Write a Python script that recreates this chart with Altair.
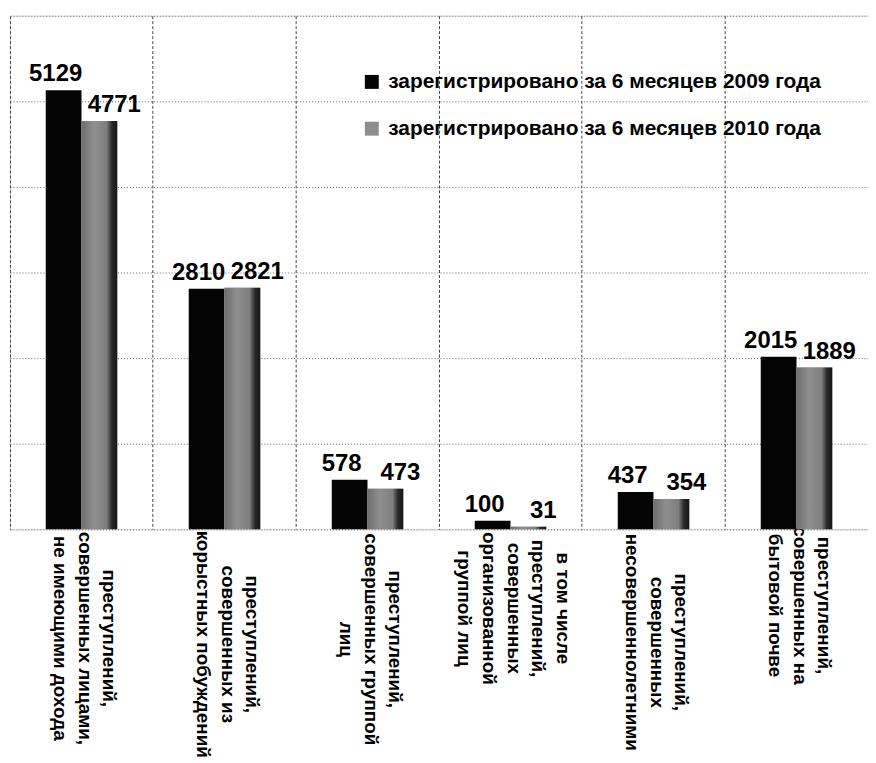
import altair as alt
import pandas as pd

categories = [
    "преступлений,|совершенных лицами,|не имеющими дохода",
    "преступлений,|совершенных из|корыстных побуждений",
    "преступлений,|совершенных группой|лиц",
    "в том числе|преступлений,|совершенных|организованной|группой лиц",
    "преступлений,|совершенных|несовершеннолетними",
    "преступлений,|совершенных на|бытовой почве",
]
series = [
    "зарегистрировано за 6 месяцев 2009 года",
    "зарегистрировано за 6 месяцев 2010 года",
]
v2009 = [5129, 2810, 578, 100, 437, 2015]
v2010 = [4771, 2821, 473, 31, 354, 1889]
y_ticks = [0, 1000, 2000, 3000, 4000, 5000, 6000]

LINE_H = 25
# label padding so the centred multi-line label block starts just below the axis
pads = [109, 115, 110, 79, 113, 76]
# shift so the block of lines is centred on the category
offs = [(c.count("|")) * LINE_H / 2 + 3 for c in categories]

rows = []
for c, a, b in zip(categories, v2009, v2010):
    rows.append({"cat": c, "series": series[0], "value": a})
    rows.append({"cat": c, "series": series[1], "value": b})
df = pd.DataFrame(rows)

FONT = "Liberation Sans"

x_enc = alt.X(
    "cat:N",
    sort=categories,
    scale=alt.Scale(paddingInner=0, paddingOuter=0),
    axis=alt.Axis(
        title=None,
        domain=False,
        ticks=False,
        grid=True,
        bandPosition=0,
        gridDash=[3, 2],
        gridColor="#444444",
        gridWidth=1,
        labelAngle=90,
        labelAlign="center",
        labelBaseline="middle",
        labelFont=FONT,
        labelFontSize=19,
        labelFontWeight="bold",
        labelColor="black",
        labelLineHeight=LINE_H,
        labelLimit=1000,
        labelExpr="split(datum.label, '|')",
        labelPadding={
            "condition": [
                {"test": f"datum.value === '{c}'", "value": p}
                for c, p in zip(categories, pads)
            ],
            "value": 100,
        },
        labelOffset={
            "condition": [
                {"test": f"datum.value === '{c}'", "value": o}
                for c, o in zip(categories, offs)
            ],
            "value": 25,
        },
    ),
)
xo_enc = alt.XOffset(
    "series:N", sort=series, scale=alt.Scale(paddingInner=0, paddingOuter=1)
)
y_enc = alt.Y(
    "value:Q",
    scale=alt.Scale(domain=[0, 6000], nice=False),
    axis=alt.Axis(
        title=None,
        values=y_ticks,
        labels=False,
        ticks=False,
        domain=False,
        grid=True,
        gridDash=[1, 2],
        gridColor="#666666",
        gridWidth=1,
    ),
)

bars = alt.Chart(df).mark_bar().encode(
    x=x_enc,
    xOffset=xo_enc,
    y=y_enc,
    color=alt.Color(
        "series:N",
        sort=series,
        scale=alt.Scale(domain=series, range=["#050505", "#8e8e8e"]),
        legend=alt.Legend(
            title=None,
            orient="none",
            legendX=353,
            legendY=56,
            symbolType="square",
            symbolSize=196,
            symbolStrokeWidth=0,
            labelFont=FONT,
            labelFontSize=21,
            labelFontWeight="bold",
            labelColor="black",
            labelOffset=6,
            rowPadding=25,
            labelLimit=600,
        ),
    ),
)

# textured look of the 2010 bars: speckled grey with a dark right edge
grad = alt.LinearGradient(
    gradient="linear",
    x1=0, y1=0, x2=1, y2=0,
    stops=[
        alt.GradientStop(color="#6e6e6e", offset=0),
        alt.GradientStop(color="#8f8f8f", offset=0.35),
        alt.GradientStop(color="#7e7e7e", offset=0.7),
        alt.GradientStop(color="#2a2a2a", offset=0.85),
        alt.GradientStop(color="#151515", offset=1),
    ],
)
bars2010 = (
    alt.Chart(df)
    .transform_filter(alt.datum.series == series[1])
    .mark_bar(color=grad)
    .encode(x=x_enc, xOffset=xo_enc, y=y_enc)
)

def value_text(s, dx):
    return (
        alt.Chart(df)
        .transform_filter(alt.datum.series == s)
        .mark_text(
            baseline="bottom",
            dy=-4,
            dx=dx,
            font=FONT,
            fontSize=24,
            fontWeight="bold",
            color="black",
        )
        .encode(x=x_enc, xOffset=xo_enc, y=y_enc, text=alt.Text("value:Q", format="d"))
    )

chart = (
    alt.layer(bars, bars2010, value_text(series[0], -8), value_text(series[1], 15))
    .properties(
        width=862,
        height=516,
        padding={"left": 2, "top": 6, "right": 0, "bottom": 0},
    )
    .configure_view(stroke=None)
    .configure(background="white")
)

chart.save("out.html", embed_options={"renderer": "svg", "actions": False})
